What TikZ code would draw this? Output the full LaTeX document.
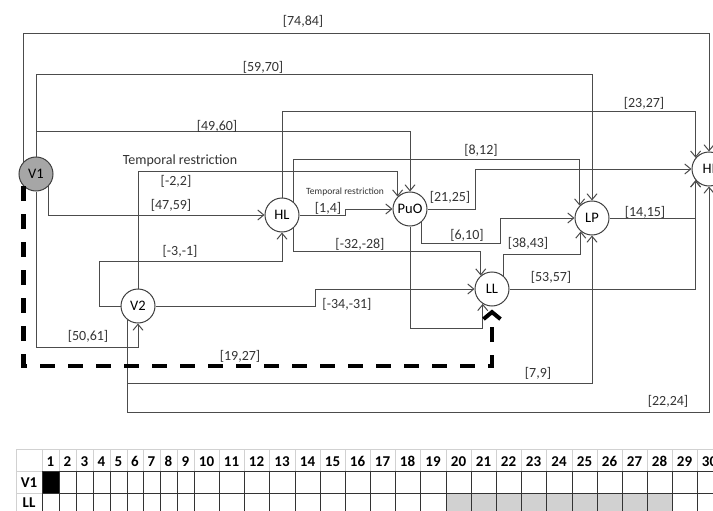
\documentclass[tikz,border=0pt]{standalone}
\usepackage{fontspec}
\setmainfont{Carlito}
\usetikzlibrary{arrows.meta}
\begin{document}
\begin{tikzpicture}[x=1pt,y=-1pt,
  state/.style={circle,draw=black!75,line width=1pt,fill=white,minimum size=34pt,inner sep=0pt,font=\fontsize{14.5}{16}\selectfont},
  conn/.style={draw=black!70,line width=1pt,-{Straight Barb[length=6pt,width=10pt]}},
  lbl/.style={font=\fontsize{14}{16}\selectfont,text=black!80,inner sep=0pt},
  slbl/.style={font=\fontsize{9.5}{11}\selectfont,text=black!80,inner sep=0pt},
  dashconn/.style={draw=black,line width=4.5pt,dash pattern=on 15pt off 13pt,shorten >=3pt,-{Straight Barb[length=7pt,width=17pt,line width=4pt]}},
  hdr/.style={font=\bfseries\fontsize{15}{17}\selectfont,inner sep=0pt,anchor=base},
  lightgrid/.style={draw=black!18,line width=0.8pt},
  darkgrid/.style={draw=black!80,line width=1pt},
]
\useasboundingbox (0,0) rectangle (713,511);
\clip (0,0) rectangle (713,511);

% nodes
\node[state,fill=black!35] (V1) at (36,174) {V1};
\node[state] (V2) at (138,306) {V2};
\node[state] (HL) at (282,215) {HL};
\node[state] (PuO) at (410,209) {PuO};
\node[state] (LP) at (592,218) {LP};
\node[state] (LL) at (492,289) {LL};
\node[state] (HI) at (709,169) {HI};

% connectors
\draw[conn] (V1.135) |- (HI.north |- 0,34) -- (HI.north);
\draw[conn] (V1.north) |- (LP.north |- 0,75) -- (LP.north);
\draw[conn] (V1.north) |- (PuO.north |- 0,132) -- (PuO.north);
\draw[conn] (HL.north) |- (HI.140 |- 0,112) -- (HI.140);
\draw[conn] (HL.50) |- (LP.135 |- 0,159) -- (LP.135);
\draw[conn] (V2.north) |- (PuO.135 |- 0,171) -- (PuO.135);
\draw[conn] (V1.south east) |- (HL.west);
\draw[conn] (V2.west) -| (99,261) -| (HL.south);
\draw[conn] (V2.east) -| (315,289) -- (LL.west);
\draw[conn] (V1.south) |- (V2.south |- 0,347) -- (V2.south);
\draw[conn] (HL.east) -| (345,209) -- (PuO.west);
\draw[conn] (HL.-50) |- (LL.130 |- 0,251) -- (LL.130);
\draw[conn] (PuO.east) -| (475,169) -- (HI.west);
\draw[conn] (PuO.-50) |- (500,243) |- (LP.west);
\draw[conn] (PuO.south) |- (LL.-122 |- 0,328) -- (LL.-122);
\draw[conn] (LL.50) |- (LP.-130 |- 0,254) -- (LP.-130);
\draw[conn] (LL.east) -| (HI.-140);
\draw[conn] (LP.east) -| (HI.-140);
\draw[conn] (V2.-126) |- (LP.south |- 0,383) -- (LP.south);
\draw[conn] (V2.-126) |- (HI.south |- 0,412) -- (HI.south);
\draw[dashconn] (V1.south west) |- (LL.south |- 0,366) -- (LL.south);

% labels
\node[lbl] (l1) at (303,21) {[74,84]};
\node[lbl] (l2) at (263,67) {[59,70]};
\node[lbl] (l3) at (217,126) {[49,60]};
\node[lbl] (t1) at (180,161) {Temporal restriction};
\node[lbl] (l4) at (176,181) {[-2,2]};
\node[lbl] (l5) at (171,205) {[47,59]};
\node[lbl] (l6) at (180,251) {[-3,-1]};
\node[lbl] (l7) at (88,336) {[50,61]};
\node[lbl] (l8) at (240,356) {[19,27]};
\node[lbl] (l9) at (538,373) {[7,9]};
\node[lbl] (l10) at (668,401) {[22,24]};
\node[lbl] (l11) at (644,103) {[23,27]};
\node[lbl] (l12) at (481,150) {[8,12]};
\node[slbl] (t2) at (345,192) {Temporal restriction};
\node[lbl] (l13) at (328,208) {[1,4]};
\node[lbl] (l14) at (450,197) {[21,25]};
\node[lbl] (l15) at (467,235) {[6,10]};
\node[lbl] (l16) at (360,244) {[-32,-28]};
\node[lbl] (l17) at (528,243) {[38,43]};
\node[lbl] (l18) at (551,277) {[53,57]};
\node[lbl] (l19) at (645,212) {[14,15]};
\node[lbl] (l20) at (347,304) {[-34,-31]};

% table
\fill[black] (42,471) rectangle (59,493);
\fill[black!18] (446,493) rectangle (672,515);
\draw[lightgrid] (16,449) rectangle (42,471);
\draw[lightgrid] (16,471) rectangle (42,493);
\draw[lightgrid] (16,493) rectangle (42,515);
\foreach \xa/\xb/\n in {42/59/1,59/76/2,76/93/3,93/110/4,110/127/5,127/143/6,143/160/7,160/177/8,177/194/9,194/219/10,219/244/11,244/269/12,269/295/13,295/320/14,320/345/15,345/370/16,370/395/17,395/420/18,420/446/19,446/471/20,471/496/21,496/521/22,521/546/23,546/572/24,572/597/25,597/622/26,622/647/27,647/672/28,672/697/29,697/722/30}{
  \draw[lightgrid] (\xa,449) rectangle (\xb,471);
  \node[hdr] (h\n) at ({(\xa+\xb)/2},466) {\n};
}
\foreach \xa/\xb in {42/59,59/76,76/93,93/110,110/127,127/143,143/160,160/177,177/194,194/219,219/244,244/269,269/295,295/320,320/345,345/370,370/395,395/420,420/446,446/471,471/496,496/521,521/546,546/572,572/597,597/622,622/647,647/672,672/697,697/722}{
  \draw[darkgrid] (\xa,471) rectangle (\xb,493);
  \draw[darkgrid] (\xa,493) rectangle (\xb,515);
}
\node[hdr] (rV1) at (29,487) {V1};
\node[hdr] (rLL) at (29,507) {LL};
\end{tikzpicture}
\end{document}
